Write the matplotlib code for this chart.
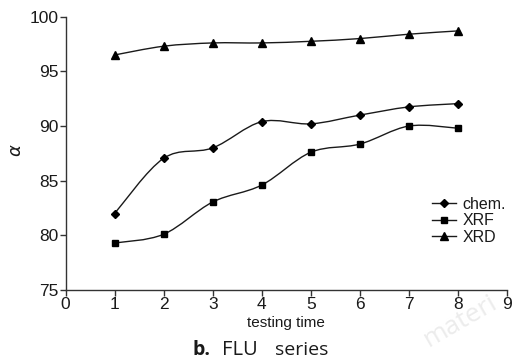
import matplotlib.pyplot as plt
import numpy as np
from matplotlib.path import Path
from matplotlib.patches import PathPatch
from matplotlib import font_manager

# ---------------- data ----------------
testing_time = [1, 2, 3, 4, 5, 6, 7, 8]
chem = [82.0, 87.05, 88.0, 90.4, 90.2, 91.0, 91.75, 92.05]
xrf = [79.3, 80.1, 83.05, 84.6, 87.6, 88.35, 90.0, 89.8]
xrd = [96.5, 97.3, 97.6, 97.6, 97.75, 98.0, 98.4, 98.7]

series = [("chem.", chem, "D", 4.2), ("XRF", xrf, "s", 5.0), ("XRD", xrd, "^", 6.0)]

# narrow sans if available
names = {f.name for f in font_manager.fontManager.ttflist}
tick_font = "Liberation Sans Narrow" if "Liberation Sans Narrow" in names else "Liberation Sans"

plt.rcParams['font.family'] = [tick_font, 'DejaVu Sans']

fig = plt.figure(figsize=(5.2, 3.63), dpi=100)
ax = fig.add_axes([0.126, 0.201, 0.849, 0.753])

ink = "#1a1a1a"


def smooth_path(xs, ys):
    # Catmull-Rom style bezier through the points (like a smoothed line)
    x = np.asarray(xs, float)
    y = np.asarray(ys, float)
    px = np.concatenate([[x[0]], x, [x[-1]]])
    py = np.concatenate([[y[0]], y, [y[-1]]])
    verts = [(x[0], y[0])]
    codes = [Path.MOVETO]
    for i in range(1, len(px) - 2):
        c1 = (px[i] + (px[i + 1] - px[i - 1]) / 6, py[i] + (py[i + 1] - py[i - 1]) / 6)
        c2 = (px[i + 1] - (px[i + 2] - px[i]) / 6, py[i + 1] - (py[i + 2] - py[i]) / 6)
        verts += [c1, c2, (px[i + 1], py[i + 1])]
        codes += [Path.CURVE4] * 3
    return Path(verts, codes)


for label, vals, mk, ms in series:
    ax.add_patch(PathPatch(smooth_path(testing_time, vals), fill=False,
                           edgecolor=ink, lw=1.0, zorder=2))
    ax.plot(testing_time, vals, linestyle='none', marker=mk, markersize=ms,
            color="black", zorder=3)
    # legend proxy
    ax.plot([], [], color=ink, lw=1.0, marker=mk, markersize=ms,
            markerfacecolor="black", markeredgecolor="black", label=label)

ax.set_xlim(0, 9)
ax.set_ylim(75, 100)
ax.set_xticks(range(0, 10))
ax.set_yticks(range(75, 101, 5))

for s in ['top', 'right']:
    ax.spines[s].set_visible(False)
for s in ['left', 'bottom']:
    ax.spines[s].set_color("#333333")
    ax.spines[s].set_linewidth(1.0)

ax.tick_params(axis='both', direction='out', length=4, width=1.0, color="#333333",
               labelsize=12.5, labelcolor=ink, pad=1)

ax.set_xlabel("testing time", fontsize=11, color=ink, labelpad=3)
ax.set_ylabel(r"$\alpha$", fontsize=13, color=ink)
ax.yaxis.set_label_coords(-0.092, 0.51)

leg = ax.legend(loc='lower right', bbox_to_anchor=(1.02, 0.13), frameon=False,
                fontsize=11.5, handlelength=1.5, handletextpad=0.4,
                labelspacing=0.1, borderaxespad=0.2)
for t in leg.get_texts():
    t.set_color(ink)

# caption below the chart
cap_y = 1 - 350 / 363
fig.text(192 / 520, cap_y, "b.", fontsize=14, fontweight='bold', family='Open Sans',
         color=ink, ha='left', va='center')
fig.text(222 / 520, cap_y, "FLU", fontsize=14.5, family='Open Sans',
         color=ink, ha='left', va='center')
fig.text(275 / 520, cap_y, "series", fontsize=14, family='Open Sans',
         color=ink, ha='left', va='center')

# faint watermark
fig.text(0.885, 0.115, "materi", fontsize=19, family='Open Sans', color="#ececec",
         rotation=30, ha='center', va='center', zorder=0)

fig.savefig("out.png", dpi=100)
